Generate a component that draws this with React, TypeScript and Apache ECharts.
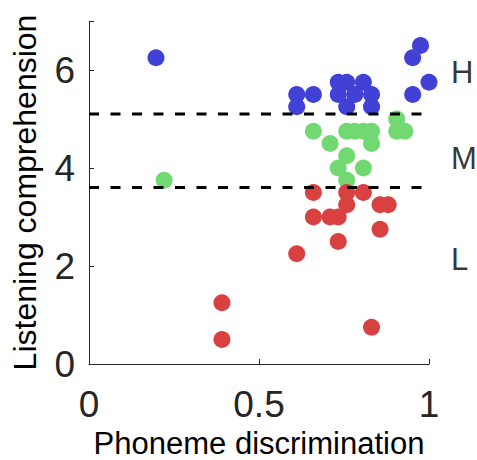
import React, { useEffect, useRef } from "react";
import * as echarts from "echarts";

const highX = [0.197, 0.975, 0.952, 1.0, 0.952, 0.611, 0.611, 0.66, 0.733, 0.758, 0.807, 0.733, 0.782, 0.831, 0.758, 0.831];
const highY = [6.25, 6.5, 6.25, 5.75, 5.5, 5.5, 5.25, 5.5, 5.75, 5.75, 5.75, 5.5, 5.5, 5.5, 5.25, 5.25];

const midX = [0.221, 0.66, 0.709, 0.758, 0.782, 0.807, 0.831, 0.831, 0.905, 0.905, 0.929, 0.758, 0.733, 0.807, 0.758];
const midY = [3.75, 4.75, 4.5, 4.75, 4.75, 4.75, 4.75, 4.5, 5.0, 4.75, 4.75, 4.25, 4.0, 4.0, 3.75];

const lowX = [0.66, 0.758, 0.807, 0.758, 0.856, 0.88, 0.66, 0.709, 0.733, 0.856, 0.733, 0.611, 0.391, 0.391, 0.831];
const lowY = [3.5, 3.5, 3.5, 3.25, 3.25, 3.25, 3.0, 3.0, 3.0, 2.75, 2.5, 2.25, 1.25, 0.5, 0.75];

const thresholds = [5.1, 3.6];
const groupLabels = ["H", "M", "L"];
const groupLabelY = [5.95, 4.2, 2.14];
const groupLabelX = 1.065;

const xTicks = [0, 0.5, 1];
const yTicks = [0, 2, 4, 6];

const FONT = "Liberation Sans, Arial, Helvetica, sans-serif";
const AXIS_COLOR = "#262626";

const zip = (xs: number[], ys: number[]) => xs.map((x, i) => [x, ys[i]]);

export default function App() {
  const ref = useRef<HTMLDivElement>(null);
  useEffect(() => {
    if (!ref.current) return;
    const chart = echarts.init(ref.current, undefined, { renderer: "svg" });
    const scatterBase = {
      type: "scatter",
      symbol: "circle",
      symbolSize: 17,
      z: 2,
    };
    chart.setOption({
      animation: false,
      backgroundColor: "#ffffff",
      grid: {
        left: 89,
        top: 21,
        width: 340,
        height: 343,
        containLabel: false,
        outerBoundsMode: "none",
      },
      xAxis: {
        type: "value",
        min: 0,
        max: 1,
        interval: 0.5,
        name: "Phoneme discrimination",
        nameLocation: "middle",
        nameGap: 64,
        nameTextStyle: { fontSize: 31, color: "#000", fontFamily: FONT },
        axisLine: { show: true, lineStyle: { color: AXIS_COLOR, width: 1 } },
        axisTick: { show: true, inside: true, length: 5, lineStyle: { color: AXIS_COLOR } },
        axisLabel: {
          fontSize: 37,
          color: AXIS_COLOR,
          fontFamily: FONT,
          margin: 22,
          formatter: (v: number) => (xTicks.includes(v) ? String(v) : ""),
        },
        splitLine: { show: false },
      },
      yAxis: {
        type: "value",
        min: 0,
        max: 7,
        interval: 2,
        name: "Listening comprehension",
        nameLocation: "middle",
        nameGap: 48,
        nameTextStyle: { fontSize: 32, color: "#000", fontFamily: FONT },
        axisLine: { show: true, lineStyle: { color: AXIS_COLOR, width: 1 } },
        axisTick: { show: true, inside: true, length: 5, lineStyle: { color: AXIS_COLOR } },
        axisLabel: {
          fontSize: 37,
          color: AXIS_COLOR,
          fontFamily: FONT,
          margin: 14,
          padding: [5, 0, 0, 0],
          formatter: (v: number) => (yTicks.includes(v) ? String(v) : ""),
        },
        splitLine: { show: false },
      },
      series: [
        { ...scatterBase, name: "H", data: zip(highX, highY), itemStyle: { color: "#4141d6", opacity: 1 } },
        { ...scatterBase, name: "M", data: zip(midX, midY), itemStyle: { color: "#72d872", opacity: 1 } },
        { ...scatterBase, name: "L", data: zip(lowX, lowY), itemStyle: { color: "#d94141", opacity: 1 } },
        ...thresholds.map((t) => ({
          type: "line",
          data: [[0, t], [1, t]],
          symbol: "none",
          z: 5,
          lineStyle: { color: "#000", width: 3, type: [10, 11.5] },
        })),
        {
          type: "scatter",
          symbolSize: 0,
          clip: false,
          silent: true,
          data: groupLabels.map((n, i) => ({ name: n, value: [groupLabelX, groupLabelY[i]] })),
          label: {
            show: true,
            position: "right",
            distance: 0,
            formatter: (p: any) => p.name,
            fontSize: 31,
            color: "#000",
            fontFamily: FONT,
          },
        },
      ],
    });
    return () => chart.dispose();
  }, []);
  return <div ref={ref} style={{ width: 477, height: 460, position: "absolute", left: 0, top: 0 }} />;
}
